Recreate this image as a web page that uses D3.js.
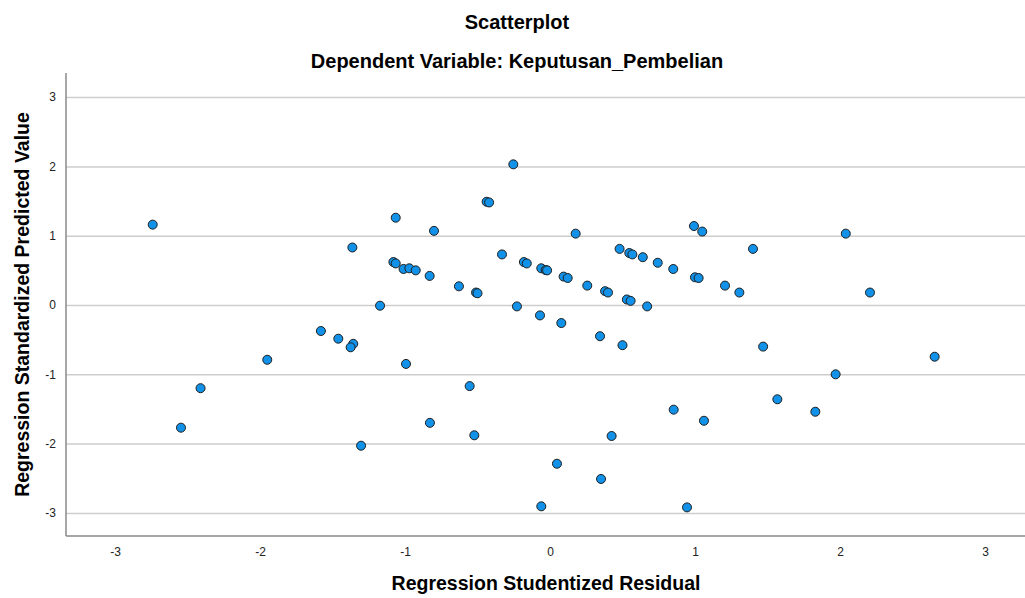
<!DOCTYPE html>
<html>
<head>
<meta charset="utf-8">
<script src="https://cdn.jsdelivr.net/npm/d3@7"></script>
<style>
  body { margin: 0; background: #fff; }
  svg { display: block; font-family: "Liberation Sans", Arial, sans-serif; }
</style>
</head>
<body>
<div class="chart"></div>
<script>
// studentized residual (x) and standardized predicted value (y), one entry per case
const residual = [
  -2.74, -1.363, -1.172, -1.064, -1.08, -1.064, -1.01, -0.97, -0.926, -0.83,
  -0.80, -0.628, -0.51, -0.50, -0.437, -0.42, -0.253, -0.228, -0.331, -0.18,
  -0.16, -0.06, -0.03, -0.02, 0.177, 0.094, 0.122, 0.257, 0.38, 0.40,
  0.48, 0.547, 0.568, 0.64, 0.53, 0.556, 0.67, 0.743, 0.85, 0.993,
  1.05, 1.00, 1.025, 1.40, 2.04, 1.207, 1.306, 2.207, -1.58, -1.46,
  -1.357, -1.375, -1.95, -2.41, -2.545, -1.303, -0.069, 0.078, 0.345, 0.50,
  -0.993, -0.554, -0.828, -0.522, 0.048, 0.352, -0.06, 0.425, 0.853, 1.062,
  0.945, 1.47, 1.568, 1.83, 1.97, 2.653
];
const predicted = [
  1.16, 0.83, -0.01, 1.26, 0.62, 0.60, 0.52, 0.53, 0.50, 0.42,
  1.07, 0.27, 0.18, 0.17, 1.49, 1.48, 2.03, -0.02, 0.73, 0.62,
  0.60, 0.53, 0.505, 0.50, 1.03, 0.41, 0.39, 0.28, 0.20, 0.18,
  0.81, 0.75, 0.73, 0.69, 0.08, 0.06, -0.02, 0.61, 0.52, 1.14,
  1.06, 0.40, 0.39, 0.81, 1.03, 0.28, 0.18, 0.18, -0.375, -0.486,
  -0.56, -0.61, -0.79, -1.20, -1.77, -2.03, -0.15, -0.26, -0.45, -0.58,
  -0.85, -1.17, -1.70, -1.88, -2.29, -2.51, -2.905, -1.89, -1.51, -1.67,
  -2.92, -0.60, -1.36, -1.54, -1.00, -0.746
];
const xTicks = [-3, -2, -1, 0, 1, 2, 3];
const yTicks = [-3, -2, -1, 0, 1, 2, 3];

document.addEventListener('DOMContentLoaded', () => {

let w = 1025,
    h = 598,
    left = 66,
    right = 1025,
    top = 73,
    bottom = 536;

const svg = d3.select('.chart')
              .append('svg')
              .attr('width', w)
              .attr('height', h)

const xScale = d3.scaleLinear()
                 .domain([-3.338, 3.276])
                 .range([left, right])

const yScale = d3.scaleLinear()
                 .domain([-3.333, 3.348])
                 .range([bottom, top])

// plain hyphen minus like the original output
const fmt = (d) => String(d)

// y axis with gridlines
const yAxis = d3.axisLeft(yScale)
                .tickValues(yTicks)
                .tickFormat(fmt)
                .tickSizeInner(-(right - left))
                .tickSizeOuter(0)
                .tickPadding(10)

const gy = svg.append('g')
              .attr('transform', `translate(${left},0)`)
              .call(yAxis)
gy.selectAll('.tick line')
  .attr('stroke', '#cdcdcd')
  .attr('stroke-width', 1.5)
gy.selectAll('.tick text')
  .attr('fill', '#222')
  .style('font-size', '12px')
gy.select('.domain').remove()

const xAxis = d3.axisBottom(xScale)
                .tickValues(xTicks)
                .tickFormat(fmt)
                .tickSize(0)
                .tickPadding(11)

const gx = svg.append('g')
              .attr('transform', `translate(0,${bottom})`)
              .call(xAxis)
gx.selectAll('.tick text')
  .attr('fill', '#222')
  .style('font-size', '12px')
gx.select('.domain').remove()

// frame lines (left + bottom)
svg.append('line')
   .attr('x1', left).attr('x2', left)
   .attr('y1', top).attr('y2', bottom)
   .attr('stroke', '#8a8a8a')
   .attr('stroke-width', 1.5)
svg.append('line')
   .attr('x1', left).attr('x2', right)
   .attr('y1', bottom).attr('y2', bottom)
   .attr('stroke', '#8a8a8a')
   .attr('stroke-width', 1.5)

svg.selectAll('circle')
   .data(residual.map((r, i) => [r, predicted[i]]))
   .enter()
   .append('circle')
   .attr('cx', (d) => xScale(d[0]))
   .attr('cy', (d) => yScale(d[1]))
   .attr('r', 4.5)
   .attr('fill', '#1192e8')
   .attr('stroke', '#1e1e1e')
   .attr('stroke-width', 1)

// titles
svg.append('text')
   .attr('x', 517).attr('y', 29)
   .attr('text-anchor', 'middle')
   .style('font-size', '20px')
   .style('font-weight', 'bold')
   .text('Scatterplot')

svg.append('text')
   .attr('x', 517).attr('y', 68)
   .attr('text-anchor', 'middle')
   .style('font-size', '20px')
   .style('font-weight', 'bold')
   .text('Dependent Variable: Keputusan_Pembelian')

svg.append('text')
   .attr('x', 546).attr('y', 590)
   .attr('text-anchor', 'middle')
   .style('font-size', '19.5px')
   .style('font-weight', 'bold')
   .text('Regression Studentized Residual')

svg.append('text')
   .attr('transform', `translate(29,${(top + bottom) / 2}) rotate(-90)`)
   .attr('text-anchor', 'middle')
   .style('font-size', '19.5px')
   .style('font-weight', 'bold')
   .text('Regression Standardized Predicted Value')

})
</script>
</body>
</html>
